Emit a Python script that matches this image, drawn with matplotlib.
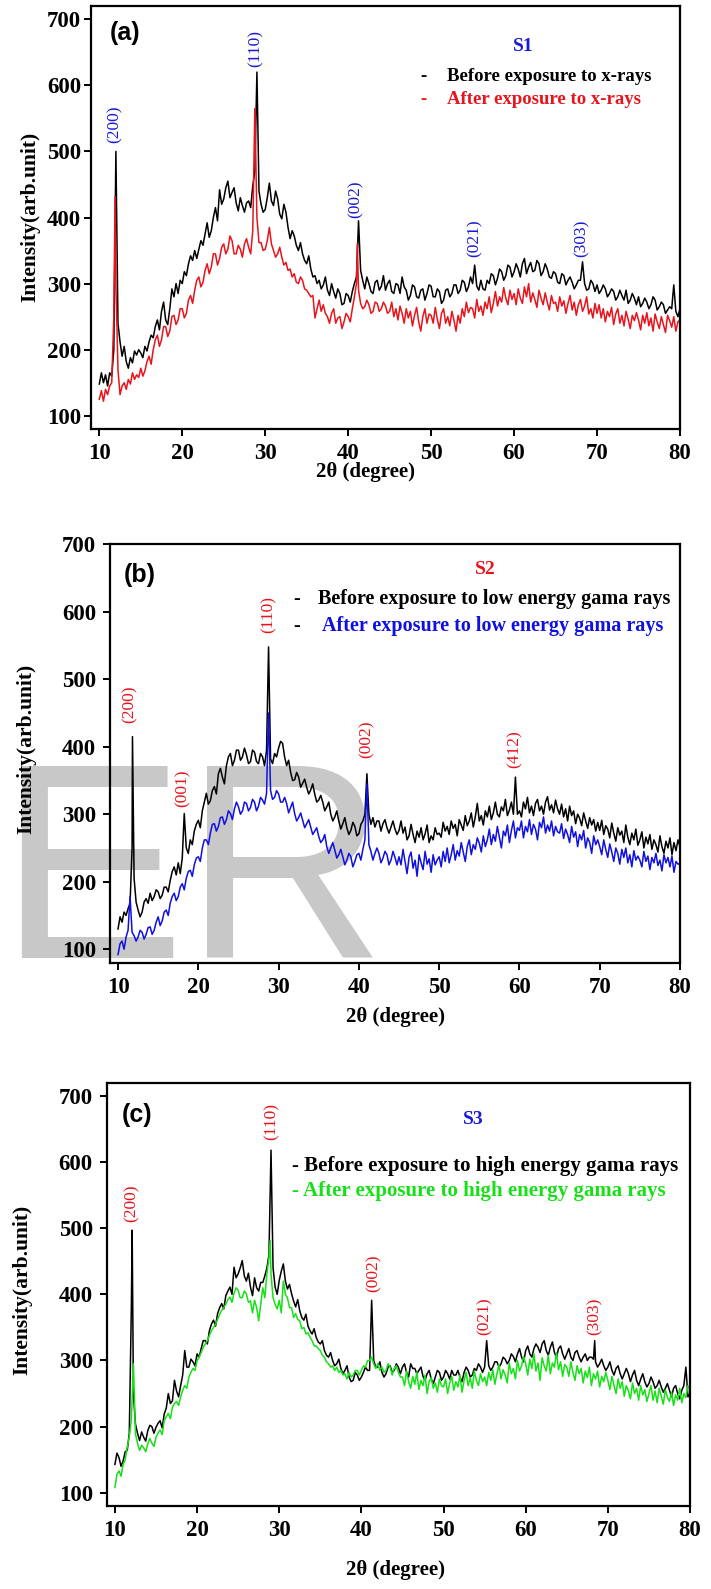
import numpy as np
import matplotlib.pyplot as plt

plt.rcParams['font.family'] = ['Liberation Serif', 'DejaVu Serif']
plt.rcParams['font.weight'] = 'bold'

W, H = 711, 1589

# common 2-theta grid (0.25 deg steps), a few off-grid peak tops are added separately
two_theta = np.linspace(10, 80, 281)

# ---------- (a) S1 : x-rays ----------
a_before = [148, 165, 150, 162, 145, 165, 160, 200, 500, 240, 212, 190, 205, 182, 172, 188, 180, 198, 192, 200,
            195, 188, 205, 198, 212, 222, 218, 235, 245, 230, 258, 272, 245, 238, 262, 292, 280, 300, 285, 305,
            300, 318, 312, 330, 342, 335, 350, 338, 352, 365, 358, 375, 392, 370, 380, 400, 415, 395, 442, 420,
            428, 445, 455, 430, 438, 445, 422, 410, 430, 418, 408, 422, 425, 415, 448, 470, 620, 440, 420, 408,
            412, 430, 452, 425, 418, 440, 428, 405, 398, 420, 408, 385, 368, 380, 372, 358, 350, 362, 345, 335,
            330, 342, 322, 310, 312, 300, 305, 292, 298, 310, 290, 282, 300, 288, 278, 292, 285, 268, 270, 285,
            282, 272, 288, 300, 310, 395, 320, 305, 292, 310, 300, 288, 285, 302, 305, 290, 296, 312, 290, 300,
            305, 288, 285, 300, 298, 285, 310, 295, 290, 275, 282, 298, 295, 280, 278, 290, 292, 275, 285, 298,
            296, 280, 280, 292, 288, 270, 275, 290, 292, 280, 285, 298, 298, 285, 290, 305, 302, 288, 295, 310,
            300, 328, 296, 290, 305, 292, 290, 305, 300, 315, 312, 298, 308, 322, 318, 305, 312, 328, 325, 310,
            318, 330, 322, 310, 330, 338, 315, 325, 332, 318, 320, 335, 330, 312, 318, 330, 322, 310, 308, 318,
            315, 302, 300, 315, 312, 298, 305, 310, 302, 292, 298, 305, 305, 333, 300, 290, 292, 305, 300, 288,
            298, 285, 290, 298, 292, 280, 285, 292, 288, 275, 280, 290, 282, 275, 290, 270, 275, 285, 278, 268,
            280, 265, 270, 278, 272, 262, 268, 280, 275, 260, 265, 272, 268, 255, 260, 265, 262, 298, 258, 250,
            262]
a_before_px = []
a_before_py = []

a_after = [125, 138, 122, 140, 132, 145, 150, 250, 300, 170, 132, 145, 150, 140, 155, 148, 165, 155, 162, 158,
           172, 160, 168, 182, 190, 178, 200, 215, 222, 205, 215, 235, 235, 220, 228, 250, 252, 238, 245, 262,
           262, 248, 255, 275, 282, 270, 290, 305, 310, 295, 302, 320, 330, 315, 325, 345, 345, 328, 338, 355,
           360, 345, 352, 372, 365, 345, 345, 358, 352, 340, 360, 368, 355, 345, 380, 565, 400, 362, 362, 350,
           352, 365, 385, 360, 350, 340, 345, 355, 340, 328, 332, 320, 322, 310, 315, 302, 300, 310, 305, 292,
           290, 285, 280, 282, 248, 262, 275, 258, 268, 255, 250, 240, 255, 262, 240, 248, 250, 232, 242, 255,
           250, 242, 262, 280, 300, 290, 270, 262, 265, 275, 268, 255, 258, 272, 270, 258, 262, 272, 266, 255,
           258, 272, 250, 262, 245, 266, 255, 240, 262, 248, 258, 236, 252, 264, 242, 228, 250, 262, 240, 254,
           252, 240, 264, 246, 232, 255, 262, 240, 250, 236, 258, 245, 228, 252, 240, 262, 250, 272, 256, 264,
           262, 248, 276, 258, 266, 252, 272, 262, 280, 256, 270, 288, 266, 280, 272, 294, 278, 268, 290, 276,
           285, 268, 292, 278, 270, 295, 280, 300, 272, 286, 276, 264, 290, 278, 268, 286, 272, 260, 282, 270,
           272, 258, 280, 266, 274, 255, 270, 282, 260, 272, 252, 268, 276, 258, 266, 280, 254, 262, 248, 270,
           255, 268, 248, 262, 242, 258, 250, 264, 238, 254, 262, 240, 252, 236, 258, 246, 232, 252, 244, 256,
           245, 230, 252, 240, 256, 236, 248, 228, 254, 242, 232, 250, 238, 226, 252, 244, 234, 250, 228, 242,
           245]
a_after_px = [11.9, 41.1]
a_after_py = [432, 360]

a_peaks = ['(200)', '(110)', '(002)', '(021)', '(303)']
a_peak_x = [11.8, 28.8, 40.9, 55.3, 68.2]
a_peak_y = [513, 628, 400, 340, 340]

# ---------- (b) S2 : low energy gamma ----------
b_before = [130, 148, 140, 155, 150, 160, 168, 250, 205, 170, 158, 148, 155, 170, 175, 168, 183, 172, 178, 188,
            185, 175, 180, 192, 192, 185, 202, 215, 222, 210, 228, 212, 235, 301, 250, 242, 262, 255, 275, 285,
            291, 280, 305, 318, 331, 315, 320, 335, 341, 330, 360, 368, 355, 345, 372, 385, 390, 372, 380, 395,
            395, 380, 385, 398, 388, 375, 378, 395, 392, 378, 375, 390, 385, 372, 395, 548, 382, 375, 390, 385,
            398, 408, 405, 385, 372, 380, 362, 350, 351, 362, 355, 340, 346, 352, 340, 330, 336, 345, 330, 318,
            321, 328, 318, 305, 311, 318, 300, 290, 296, 305, 290, 278, 286, 295, 280, 270, 276, 288, 282, 268,
            271, 285, 290, 300, 360, 300, 285, 295, 281, 290, 290, 275, 286, 292, 280, 272, 281, 290, 278, 270,
            276, 290, 272, 281, 262, 268, 285, 270, 258, 275, 266, 280, 262, 271, 284, 258, 268, 262, 280, 270,
            272, 266, 288, 275, 282, 270, 290, 279, 285, 268, 292, 284, 276, 298, 283, 290, 302, 281, 296, 316,
            290, 298, 284, 305, 296, 312, 292, 302, 318, 300, 296, 311, 305, 322, 298, 306, 318, 300, 355, 300,
            305, 296, 318, 308, 325, 302, 312, 298, 316, 322, 305, 312, 300, 318, 326, 306, 314, 302, 321, 308,
            300, 315, 296, 308, 290, 312, 298, 305, 286, 300, 294, 283, 302, 290, 279, 295, 284, 292, 275, 288,
            276, 291, 270, 283, 278, 265, 287, 272, 260, 280, 269, 275, 258, 284, 266, 255, 272, 262, 278, 254,
            262, 274, 250, 266, 256, 270, 248, 262, 255, 244, 268, 252, 242, 260, 250, 265, 240, 258, 246, 262,
            252]
b_before_px = [11.8]
b_before_py = [415]

b_after = [92, 108, 112, 100, 118, 128, 178, 125, 120, 112, 118, 128, 125, 115, 122, 132, 133, 122, 128, 140,
           148, 135, 142, 155, 158, 150, 168, 178, 183, 172, 178, 192, 197, 188, 205, 215, 217, 208, 225, 235,
           237, 230, 250, 262, 262, 255, 272, 285, 286, 275, 282, 295, 296, 285, 292, 305, 301, 292, 308, 318,
           311, 300, 305, 318, 316, 305, 310, 322, 318, 305, 312, 325, 321, 315, 331, 450, 335, 322, 325, 335,
           330, 318, 318, 325, 316, 302, 310, 318, 301, 290, 295, 302, 291, 280, 286, 292, 281, 270, 275, 280,
           267, 258, 262, 270, 252, 242, 250, 258, 247, 235, 240, 248, 237, 225, 232, 242, 237, 222, 230, 240,
           242, 232, 248, 262, 345, 255, 245, 232, 242, 250, 242, 228, 235, 245, 240, 225, 232, 245, 236, 225,
           237, 225, 248, 230, 212, 236, 244, 220, 232, 208, 240, 228, 218, 245, 226, 234, 214, 240, 225, 232,
           237, 222, 245, 230, 250, 228, 240, 255, 232, 246, 238, 258, 244, 230, 252, 262, 240, 255, 248, 265,
           257, 244, 268, 252, 262, 278, 255, 270, 260, 282, 266, 250, 275, 268, 284, 258, 276, 290, 265, 280,
           276, 290, 265, 282, 274, 292, 270, 285, 278, 262, 288, 280, 296, 272, 284, 275, 290, 268, 282, 274,
           272, 286, 264, 278, 270, 258, 282, 266, 274, 252, 270, 262, 276, 250, 265, 258, 242, 268, 255, 262,
           252, 240, 262, 248, 236, 256, 244, 230, 250, 242, 226, 248, 236, 250, 228, 240, 222, 246, 232, 238,
           232, 222, 245, 230, 238, 218, 236, 228, 242, 224, 232, 216, 240, 228, 236, 222, 238, 214, 230, 226,
           227]
b_after_px = []
b_after_py = []

b_peaks = ['(200)', '(001)', '(110)', '(002)', '(412)']
b_peak_x = [11.5, 18.1, 28.7, 41.0, 59.4]
b_peak_y = [435, 310, 569, 383, 368]

# ---------- (c) S3 : high energy gamma ----------
c_before = [143, 160, 153, 140, 148, 162, 164, 190, 380, 250, 204, 190, 179, 192, 184, 178, 194, 202, 200, 190,
            199, 205, 209, 198, 219, 228, 250, 235, 239, 270, 254, 245, 262, 278, 315, 290, 290, 302, 298, 292,
            310, 305, 318, 330, 330, 325, 345, 355, 361, 352, 371, 380, 386, 378, 398, 405, 411, 400, 441, 425,
            431, 440, 451, 428, 420, 432, 411, 398, 425, 410, 405, 418, 418, 428, 440, 460, 618, 440, 411, 400,
            421, 435, 446, 420, 408, 415, 401, 390, 381, 392, 375, 365, 361, 370, 352, 345, 340, 348, 335, 328,
            325, 330, 315, 308, 305, 312, 300, 292, 295, 302, 288, 280, 285, 292, 275, 268, 270, 282, 278, 270,
            275, 282, 290, 285, 285, 391, 300, 290, 290, 298, 282, 275, 280, 290, 292, 282, 285, 295, 290, 280,
            290, 295, 282, 275, 295, 288, 288, 280, 285, 290, 276, 270, 280, 285, 272, 265, 275, 285, 282, 270,
            275, 285, 280, 272, 285, 278, 278, 285, 275, 268, 282, 290, 285, 275, 278, 288, 285, 295, 290, 282,
            290, 330, 292, 285, 290, 298, 298, 290, 295, 305, 302, 295, 300, 310, 306, 298, 310, 318, 305, 298,
            315, 322, 310, 305, 318, 325, 320, 312, 325, 330, 315, 308, 320, 328, 312, 305, 318, 322, 310, 302,
            310, 318, 305, 300, 312, 315, 305, 298, 305, 310, 300, 305, 305, 302, 298, 290, 295, 302, 292, 285,
            290, 298, 285, 278, 288, 292, 280, 272, 280, 288, 280, 268, 278, 285, 270, 262, 272, 280, 268, 260,
            265, 275, 268, 258, 262, 270, 260, 252, 258, 265, 255, 245, 258, 262, 250, 242, 255, 262, 290, 245,
            250]
c_before_px = [12.1, 68.4]
c_before_py = [497, 330]

c_after = [108, 128, 133, 125, 143, 150, 169, 185, 210, 295, 189, 175, 164, 172, 168, 162, 174, 182, 175, 170,
           184, 190, 195, 188, 209, 215, 220, 212, 229, 235, 238, 232, 245, 255, 262, 258, 275, 282, 288, 285,
           300, 305, 312, 320, 325, 330, 338, 345, 350, 355, 362, 370, 376, 380, 385, 392, 396, 388, 402, 410,
           406, 395, 395, 405, 401, 388, 390, 372, 391, 380, 360, 385, 410, 395, 431, 455, 430, 395, 385, 378,
           391, 372, 420, 400, 395, 380, 380, 365, 371, 362, 360, 348, 350, 340, 342, 335, 330, 322, 322, 318,
           315, 308, 305, 298, 295, 290, 292, 285, 290, 282, 285, 278, 280, 272, 282, 275, 278, 285, 285, 278,
           285, 292, 290, 300, 300, 305, 295, 288, 295, 285, 290, 282, 285, 295, 290, 278, 288, 292, 282, 275,
           275, 262, 284, 268, 258, 276, 264, 282, 256, 270, 262, 278, 250, 268, 274, 258, 266, 252, 272, 262,
           260, 272, 250, 266, 276, 255, 268, 260, 278, 252, 270, 282, 262, 274, 258, 284, 270, 262, 280, 268,
           275, 262, 282, 270, 286, 264, 280, 294, 272, 286, 278, 266, 296, 280, 288, 272, 300, 284, 292, 306,
           295, 278, 302, 288, 310, 284, 296, 270, 304, 292, 284, 308, 280, 296, 290, 312, 286, 298, 276, 294,
           290, 276, 298, 282, 270, 292, 280, 288, 266, 284, 274, 290, 262, 280, 272, 284, 260, 276, 268, 282,
           270, 256, 276, 262, 250, 272, 258, 268, 246, 262, 254, 242, 266, 250, 258, 240, 262, 248, 256, 238,
           250, 262, 240, 254, 236, 258, 246, 234, 256, 244, 238, 252, 232, 248, 240, 258, 236, 250, 244, 262,
           255]
c_after_px = [28.9]
c_after_py = [482]

c_peaks = ['(200)', '(110)', '(002)', '(021)', '(303)']
c_peak_x = [12.0, 29.1, 41.45, 55.05, 68.4]
c_peak_y = [509, 633, 403, 338, 338]

xticks = [10, 20, 30, 40, 50, 60, 70, 80]
yticks = [100, 200, 300, 400, 500, 600, 700]

BLUE = '#1a1ad6'
RED = '#e8141c'
GREEN = '#18e018'
LINE_BLUE = '#1010e0'


def trace(grid_y, px, py):
    x = np.concatenate([two_theta, px])
    y = np.concatenate([np.asarray(grid_y, float), py])
    o = np.argsort(x, kind='stable')
    return x[o], y[o]


def rect(l, t, r, b):
    # pixel box -> figure fraction
    return [l / W, 1 - b / H, (r - l) / W, (b - t) / H]


def fpos(x, y):
    return x / W, 1 - y / H


fig = plt.figure(figsize=(W / 100, H / 100), dpi=100)

# watermark behind panel (b)
fig.text(*fpos(-2, 958), 'ER', family='Liberation Sans', fontweight='normal',
         fontsize=201, color='#c8c8c8', ha='left', va='baseline', zorder=0.5)

panels = [
    dict(box=(91, 6, 680, 429), ylim=(80, 720), tag='(a)', tagxy=(13.1, 679),
         series=[(a_before, a_before_px, a_before_py, 'black'),
                 (a_after, a_after_px, a_after_py, RED)],
         peaks=(a_peaks, a_peak_x, a_peak_y, BLUE), ypad=2,
         xlab=(365, 472), ylab=(30, 217)),
    dict(box=(110, 544.3, 680, 962.7), ylim=(80, 700), tag='(b)', tagxy=(12.7, 654.5),
         series=[(b_before, b_before_px, b_before_py, 'black'),
                 (b_after, b_after_px, b_after_py, LINE_BLUE)],
         peaks=(b_peaks, b_peak_x, b_peak_y, RED), ypad=5,
         xlab=(395, 1017), ylab=(26, 749)),
    dict(box=(106.7, 1082.7, 690, 1506), ylim=(80, 720), tag='(c)', tagxy=(12.7, 671),
         series=[(c_before, c_before_px, c_before_py, 'black'),
                 (c_after, c_after_px, c_after_py, GREEN)],
         peaks=(c_peaks, c_peak_x, c_peak_y, RED), ypad=5,
         xlab=(395, 1570), ylab=(22, 1290)),
]

axes = []
for p in panels:
    ax = fig.add_axes(rect(*p['box']), zorder=1)
    ax.set_facecolor('none')
    for gy, px, py, col in p['series']:
        x, y = trace(gy, px, py)
        ax.plot(x, y, color=col, lw=1.1)
    ax.set_xlim(9, 80)
    ax.set_ylim(*p['ylim'])
    ax.set_xticks(xticks)
    ax.set_yticks(yticks)
    ax.tick_params(direction='out', length=5, width=1.4, labelsize=16.5, pad=p['ypad'])
    ax.tick_params(axis='x', pad=5)
    for s in ax.spines.values():
        s.set_linewidth(1.6)
    names, xs, ys, col = p['peaks']
    for n, x, y in zip(names, xs, ys):
        ax.text(x, y, n, rotation=90, ha='center', va='bottom', color=col,
                fontsize=12.5, fontweight='normal')
    ax.text(*p['tagxy'], p['tag'], family='Liberation Sans', fontsize=18,
            fontweight='bold', ha='center', va='center')
    fig.text(*fpos(*p['xlab']), '2\u03b8 (degree)', fontsize=15, ha='center', va='center')
    fig.text(*fpos(*p['ylab']), 'Intensity(arb.unit)', fontsize=15.5, rotation=90,
             ha='center', va='center')
    axes.append(ax)

ax_a, ax_b, ax_c = axes

# legends written as text, as in the original
ax_a.text(61.1, 658, 'S1', color=BLUE, fontsize=14, ha='center', va='center')
ax_a.text(49.1, 612.7, '-', fontsize=13.5, ha='center', va='center')
ax_a.text(51.9, 612.7, 'Before exposure to x-rays', fontsize=13.5, ha='left', va='center')
ax_a.text(49.1, 578, '-', color=RED, fontsize=13.5, ha='center', va='center')
ax_a.text(51.9, 578, 'After exposure to x-rays', color=RED, fontsize=13.5,
          ha='left', va='center')

ax_b.text(55.7, 662, 'S2', color=RED, fontsize=14, ha='center', va='center')
ax_b.text(32.3, 619, '-', fontsize=14.5, ha='center', va='center')
ax_b.text(34.9, 619, 'Before exposure to low energy gama rays', fontsize=14.5,
          ha='left', va='center')
ax_b.text(32.3, 579, '-', fontsize=14.5, ha='center', va='center')
ax_b.text(35.4, 579, 'After exposure to low energy gama rays', color=LINE_BLUE,
          fontsize=14.5, ha='left', va='center')

ax_c.text(53.6, 664, 'S3', color=BLUE, fontsize=14, ha='center', va='center')
ax_c.text(31.5, 594, '- Before exposure to high energy gama rays', fontsize=15,
          ha='left', va='center')
ax_c.text(31.5, 556, '- After exposure to high energy gama rays', color=GREEN,
          fontsize=15, ha='left', va='center')

fig.savefig('out.png', dpi=100)
